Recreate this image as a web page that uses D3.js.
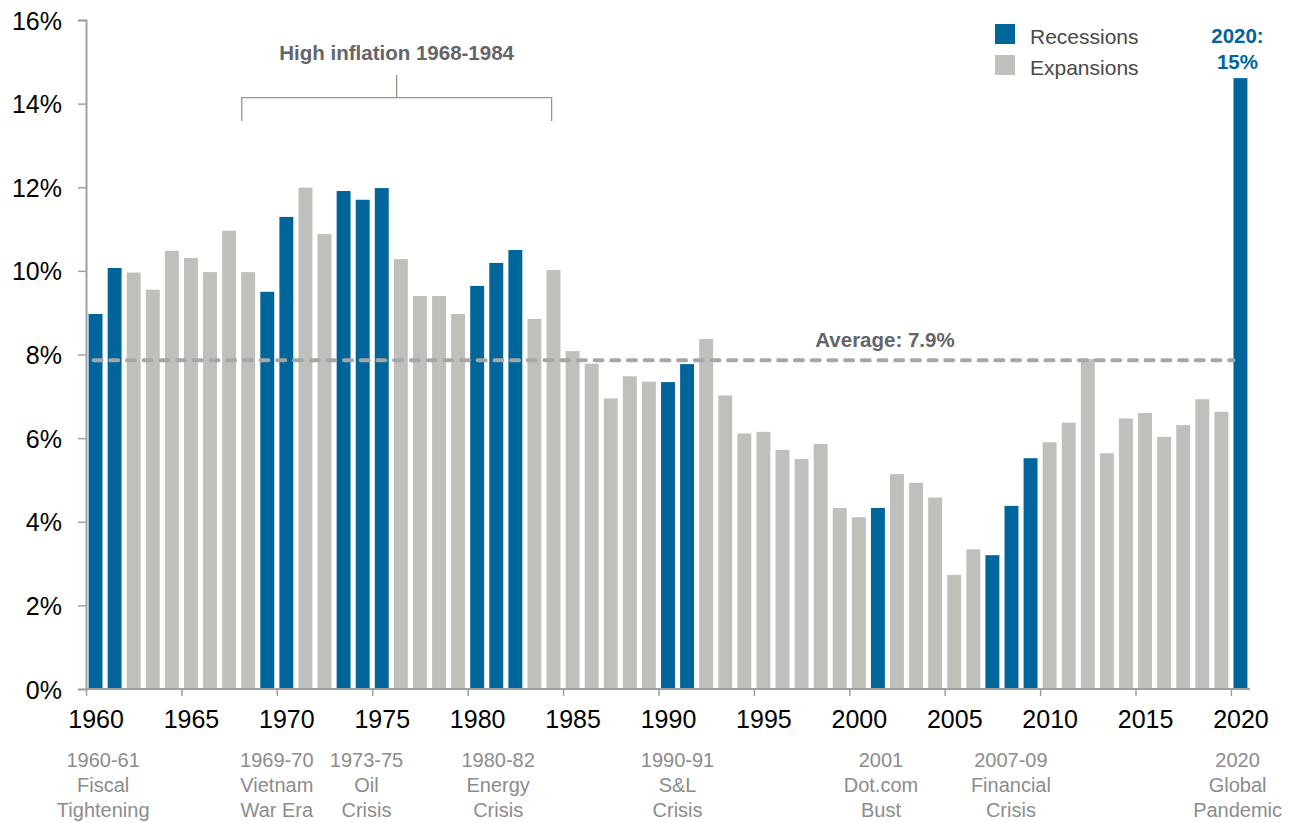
<!DOCTYPE html>
<html>
<head>
<meta charset="utf-8">
<script src="https://cdn.jsdelivr.net/npm/d3@7"></script>
<style>
  body{margin:0;background:#fff;}
  svg text{font-family:"Liberation Sans",Arial,sans-serif;}
</style>
</head>
<body>
<svg id="chart" width="1289" height="822"></svg>
<script>
// yearly values, %
var years  = d3.range(1960, 2021);
var values = [8.97,10.07,9.96,9.55,10.48,10.31,9.97,10.96,9.97,9.50,
              11.29,11.99,10.88,11.91,11.70,11.98,10.28,9.40,9.40,8.97,
              9.64,10.19,10.50,8.85,10.02,8.08,7.78,6.95,7.48,7.35,
              7.34,7.77,8.37,7.02,6.11,6.15,5.72,5.50,5.86,4.33,
              4.11,4.33,5.14,4.93,4.58,2.73,3.34,3.20,4.38,5.52,
              5.90,6.37,7.89,5.64,6.47,6.60,6.03,6.31,6.93,6.63,14.61];
var recessionYears = [1960,1961,1969,1970,1973,1974,1975,1980,1981,1982,
                      1990,1991,2001,2007,2008,2009,2020];
var yTicks  = [0,2,4,6,8,10,12,14,16];
var xTicks  = d3.range(1960, 2021, 5);
var average = 7.86;
// crisis captions under the axis, placed at a year position
var crisisPos   = [1960.9,1970.0,1974.7,1981.6,1991.0,2001.66,2008.47,2020.35];
var crisisLines = [['1960-61','Fiscal','Tightening'],['1969-70','Vietnam','War Era'],
                   ['1973-75','Oil','Crisis'],['1980-82','Energy','Crisis'],
                   ['1990-91','S&L','Crisis'],['2001','Dot.com','Bust'],
                   ['2007-09','Financial','Crisis'],['2020','Global','Pandemic']];
var inflationSpan = [1968.16, 1984.4];

var blue = '#00659a', grey = '#bfbfbb', axisCol = '#a0a0a0';
var svg = d3.select('#chart');
var mLeft = 86, mRight = 1250, mTop = 20, mBottom = 689;

var x  = d3.scaleBand().domain(years).range([mLeft,mRight]).paddingInner(0.27).paddingOuter(0.135);
var xl = d3.scaleLinear().domain([1960,2021]).range([mLeft,mRight]);
var y  = d3.scaleLinear().domain([0,16]).range([mBottom,mTop]);
var step = x.step();

// y axis
var yAxis = svg.append('g').attr('transform','translate('+mLeft+',0)')
  .call(d3.axisLeft(y).tickValues(yTicks).tickSize(8).tickPadding(16).tickFormat(function(d){return d+'%';}));
yAxis.select('.domain').attr('stroke',axisCol).attr('stroke-width',2);
yAxis.selectAll('.tick line').attr('stroke',axisCol).attr('stroke-width',1.5);
yAxis.selectAll('.tick text').attr('fill','#000').style('font-size','25px').attr('dy','0.36em');

// bars
svg.append('g').selectAll('rect').data(years).enter().append('rect')
  .attr('x',function(d){return x(d);})
  .attr('width',x.bandwidth())
  .attr('y',function(d,i){return y(values[i]);})
  .attr('height',function(d,i){return mBottom-y(values[i]);})
  .attr('fill',function(d){return recessionYears.indexOf(d)>=0 ? blue : grey;});

// x axis
var xAxis = svg.append('g').attr('transform','translate(0,'+mBottom+')')
  .call(d3.axisBottom(xl).tickValues(xTicks).tickSize(7).tickPadding(12).tickFormat(d3.format('d')));
xAxis.select('.domain').attr('stroke',axisCol).attr('stroke-width',2).attr('d','M'+mLeft+',0H'+mRight);
xAxis.selectAll('.tick line').attr('stroke',axisCol).attr('stroke-width',1.5);
xAxis.selectAll('.tick text').attr('fill','#000').style('font-size','25px')
  .attr('dx',step/2).attr('dy','0.78em');

// average line
svg.append('line')
  .attr('x1',x(1960)+x.bandwidth()/2-2).attr('x2',x(2020))
  .attr('y1',y(average)).attr('y2',y(average))
  .attr('stroke','#a6a6a6').attr('stroke-width',4)
  .attr('stroke-dasharray','8,8.7').attr('stroke-linecap','round');
svg.append('text').attr('x',885).attr('y',y(average)-13)
  .attr('text-anchor','middle').attr('fill','#636569')
  .style('font-size','20.5px').style('font-weight','bold').text('Average: 7.9%');

// inflation bracket
var bx1 = xl(inflationSpan[0]), bx2 = xl(inflationSpan[1]), bm = (bx1+bx2)/2;
svg.append('path')
  .attr('d','M'+bx1+',121V97.7H'+bx2+'V121M'+bm+',97.7V75')
  .attr('fill','none').attr('stroke','#9d958d').attr('stroke-width',1.3);
svg.append('text').attr('x',bm).attr('y',60).attr('text-anchor','middle')
  .attr('fill','#636569').style('font-size','20.5px').style('font-weight','bold')
  .text('High inflation 1968-1984');

// 2020 callout
var c2020 = x(2020)+x.bandwidth()/2-3;
svg.append('text').attr('x',c2020).attr('y',43).attr('text-anchor','middle')
  .attr('fill',blue).style('font-size','20.5px').style('font-weight','bold').text('2020:');
svg.append('text').attr('x',c2020).attr('y',69).attr('text-anchor','middle')
  .attr('fill',blue).style('font-size','20.5px').style('font-weight','bold').text('15%');

// legend
var legend = [['Recessions',blue],['Expansions',grey]];
var lg = svg.append('g').selectAll('g').data(legend).enter().append('g')
  .attr('transform',function(d,i){return 'translate(995,'+(24+i*31)+')';});
lg.append('rect').attr('width',20).attr('height',20).attr('fill',function(d){return d[1];});
lg.append('text').attr('x',35).attr('y',19.5).attr('fill','#4a4845')
  .style('font-size','21px').text(function(d){return d[0];});

// crisis captions
var cap = svg.append('g').selectAll('text').data(crisisLines).enter().append('text')
  .attr('text-anchor','middle').attr('fill','#8c8c8c').style('font-size','20px');
cap.selectAll('tspan').data(function(d,i){return d.map(function(t){return [t,crisisPos[i]];});}).enter()
  .append('tspan').attr('x',function(d){return xl(d[1]);})
  .attr('y',function(d,j){return 767+j*24.8;})
  .text(function(d){return d[0];});
</script>
</body>
</html>
